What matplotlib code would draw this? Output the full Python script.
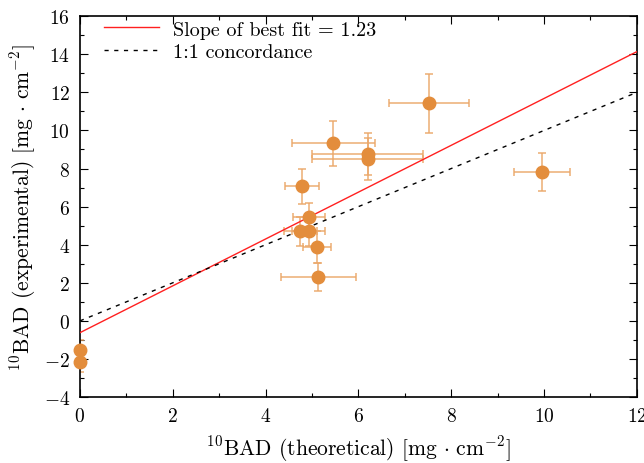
import matplotlib
matplotlib.use("Agg")
import matplotlib.pyplot as plt
import numpy as np
from matplotlib.ticker import MultipleLocator

# theoretical vs experimental 10BAD values [mg cm^-2]
x_theo = [7.53, 5.46, 6.20, 6.20, 4.78, 4.94, 4.75, 4.93, 5.10, 5.14, 9.95, 0.0, 0.0]
y_exp = [11.42, 9.32, 8.76, 8.48, 7.08, 5.47, 4.70, 4.70, 3.89, 2.32, 7.81, -1.55, -2.15]
x_err = [0.86, 0.90, 1.20, 1.20, 0.37, 0.35, 0.35, 0.35, 0.30, 0.81, 0.60, 0.0, 0.0]
y_err = [1.55, 1.18, 1.10, 1.10, 0.92, 0.73, 0.75, 0.75, 0.83, 0.73, 0.99, 0.55, 0.55]

fit_slope = 1.23
fit_intercept = -0.62

plt.rcParams["font.family"] = "cmr10"
plt.rcParams["mathtext.fontset"] = "cm"
plt.rcParams["axes.formatter.use_mathtext"] = True

fig, ax = plt.subplots(figsize=(6.44, 4.64), dpi=100)
fig.subplots_adjust(left=0.124, right=0.989, top=0.963, bottom=0.142)

xs = np.array([0, 12])
ax.plot(xs, fit_slope * xs + fit_intercept, color="#ff2020", lw=1.0,
        label="Slope of best fit = 1.23", zorder=3)
ax.plot(xs, xs, color="black", lw=1.0, linestyle=(0, (3, 4)),
        label="1:1 concordance", zorder=3)

ax.errorbar(x_theo, y_exp, xerr=x_err, yerr=y_err, fmt="none",
            ecolor="#eba86a", elinewidth=1.3, capsize=3, capthick=1.3,
            alpha=0.8, zorder=2)
ax.plot(x_theo, y_exp, "o", color="#e38d3c", markersize=9, zorder=4,
        clip_on=False)

ax.set_xlim(0, 12)
ax.set_ylim(-4, 16)
ax.xaxis.set_major_locator(MultipleLocator(2))
ax.xaxis.set_minor_locator(MultipleLocator(1))
ax.yaxis.set_major_locator(MultipleLocator(2))
ax.yaxis.set_minor_locator(MultipleLocator(1))
ax.tick_params(which="both", direction="in", top=True, right=True,
               labelsize=14, pad=7)
ax.tick_params(which="major", length=6, width=0.8)
ax.tick_params(which="minor", length=3, width=0.8)
for s in ax.spines.values():
    s.set_linewidth(1.2)

ax.set_xlabel(r"$^{10}$BAD (theoretical) [mg$\,\cdot\,$cm$^{-2}$]", fontsize=15.5, labelpad=6)
ax.set_ylabel(r"$^{10}$BAD (experimental) [mg$\,\cdot\,$cm$^{-2}$]", fontsize=15.5, labelpad=4)

ax.legend(loc="upper left", bbox_to_anchor=(0.029, 1.01), frameon=False,
          fontsize=14.5, handlelength=2.75, borderaxespad=0, labelspacing=0.2,
          handletextpad=0.65)

plt.savefig("out.png", dpi=100)
